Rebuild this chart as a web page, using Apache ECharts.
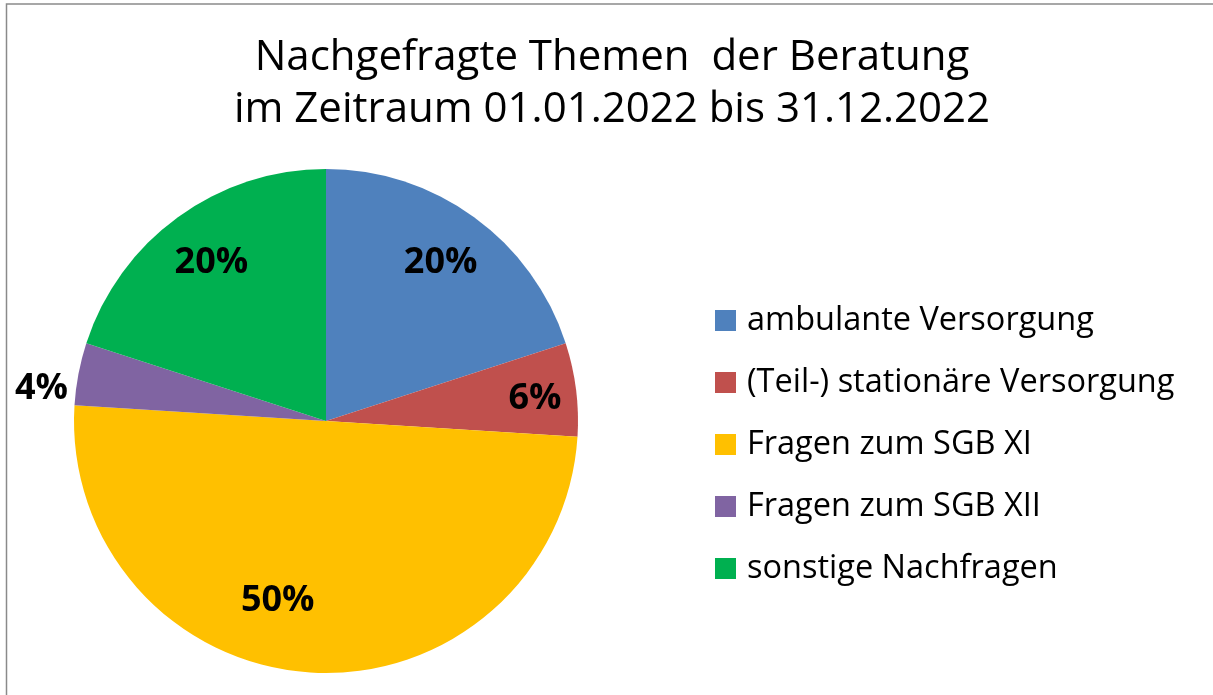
<!DOCTYPE html>
<html>
<head>
<meta charset="utf-8">
<script src="https://cdn.jsdelivr.net/npm/echarts@6/dist/echarts.min.js"></script>
<style>
html,body{margin:0;padding:0;background:#fff;}
#chart{width:1213px;height:695px;}
</style>
</head>
<body>
<div id="chart"></div>
<script>
const titleLines = ['Nachgefragte Themen  der Beratung', 'im Zeitraum 01.01.2022 bis 31.12.2022'];
const categories = ['ambulante Versorgung', '(Teil-) stationäre Versorgung', 'Fragen zum SGB XI', 'Fragen zum SGB XII', 'sonstige Nachfragen'];
const shares = [20, 6, 50, 4, 20];

const colors = ['#4F81BD', '#C0504D', '#FFC000', '#8064A2', '#00B050'];
// label nudges, styling only: horizontal via padding, vertical via a blank spacer line
const labelPadding = [[0,0,0,0],[0,0,0,31],[0,72,0,0],[0,186,0,0],[0,0,0,0]];
const labelSpacer = ['', 'above5', 'below30', 'above8', ''];

const chart = echarts.init(document.getElementById('chart'), null, {renderer: 'canvas'});

const pieData = categories.map((c, i) => ({name: c, value: shares[i], itemStyle: {color: colors[i]}}));
const labelData = categories.map((c, i) => ({
  name: c, value: shares[i],
  itemStyle: {color: 'rgba(0,0,0,0)'},
  label: {padding: labelPadding[i]}
}));

chart.setOption({
  animation: false,
  backgroundColor: '#fff',
  graphic: [{
    type: 'rect', shape: {x: 6.5, y: 4, width: 1400, height: 900},
    style: {fill: 'none', stroke: '#8a8a8a', lineWidth: 1.5}, silent: true, z: 100
  }],
  title: {
    text: titleLines.join('\n'),
    left: 612, top: 32, textAlign: 'center', padding: 0,
    textStyle: {fontFamily: 'Open Sans', fontSize: 42, fontWeight: 'normal', color: '#000', lineHeight: 52}
  },
  legend: {
    orient: 'vertical', left: 715, top: 304, padding: 0,
    data: categories, icon: 'rect', itemWidth: 21, itemHeight: 21, itemGap: 29,
    selectedMode: false,
    textStyle: {fontFamily: 'Open Sans', fontSize: 32.5, color: '#000', lineHeight: 32, padding: [0,0,0,6]}
  },
  series: [{
    type: 'pie', center: [326, 421], radius: [0, 252], startAngle: 90, clockwise: true,
    data: pieData, label: {show: false}, labelLine: {show: false},
    silent: true, emphasis: {disabled: true}
  }, {
    type: 'pie', center: [326, 421], radius: [140, 244], startAngle: 90, clockwise: true,
    data: labelData, silent: true, emphasis: {disabled: true}, z: 3,
    label: {show: true, position: 'inside',
      formatter: function (p) {
        const t = '{v|' + p.percent + '%}';
        const s = labelSpacer[p.dataIndex];
        if (s.indexOf('below') === 0) return t + '\n{' + s + '| }';
        if (s.indexOf('above') === 0) return '{' + s + '| }\n' + t;
        return t;
      },
      rich: {
        v: {fontFamily: 'Open Sans', fontWeight: 'bold', fontSize: 36, color: '#000', lineHeight: 40},
        above5: {fontSize: 1, lineHeight: 5},
        below30: {fontSize: 1, lineHeight: 30},
        above8: {fontSize: 1, lineHeight: 8}
      },
      fontFamily: 'Open Sans', fontWeight: 'bold', fontSize: 36, color: '#000'},
    labelLine: {show: false}
  }]
});
</script>
</body>
</html>
